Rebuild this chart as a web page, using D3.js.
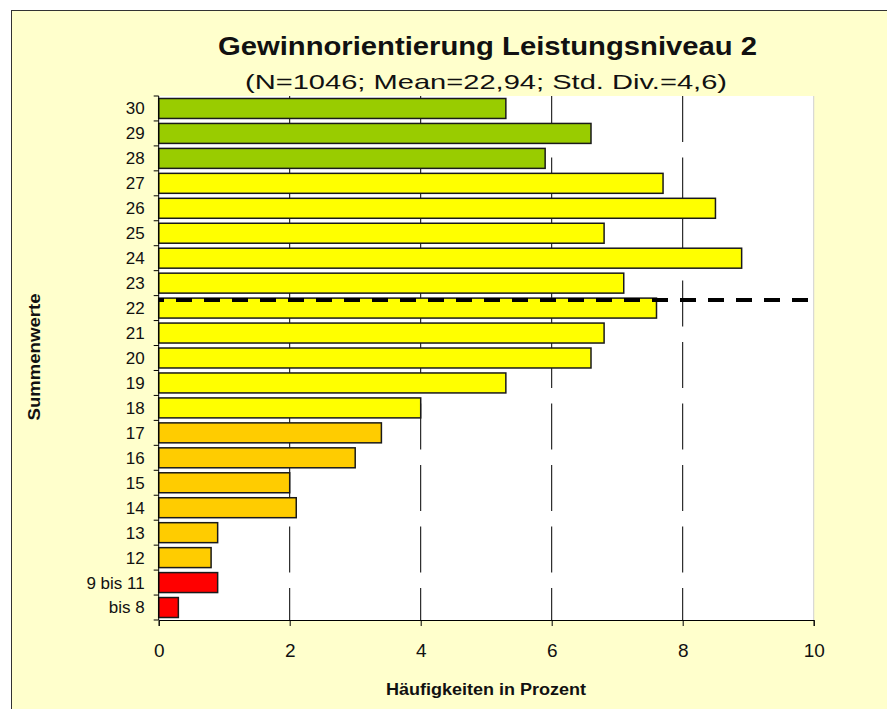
<!DOCTYPE html>
<html>
<head>
<meta charset="utf-8">
<script src="https://cdn.jsdelivr.net/npm/d3@7"></script>
<style>
  body { margin: 0; background: #fff; }
  text { font-family: "Liberation Sans", Arial, sans-serif; }
</style>
</head>
<body>
<div id="chart"></div>
<script>
const categories = ['30', '29', '28', '27', '26', '25', '24', '23', '22', '21', '20',
  '19', '18', '17', '16', '15', '14', '13', '12', '9 bis 11', 'bis 8'];
const values = [5.3, 6.6, 5.9, 7.7, 8.5, 6.8, 8.9, 7.1, 7.6, 6.8, 6.6,
  5.3, 4.0, 3.4, 3.0, 2.0, 2.1, 0.9, 0.8, 0.9, 0.3];
const groups = ['hoch', 'hoch', 'hoch', 'mittel', 'mittel', 'mittel', 'mittel', 'mittel', 'mittel', 'mittel', 'mittel',
  'mittel', 'mittel', 'niedrig', 'niedrig', 'niedrig', 'niedrig', 'niedrig', 'niedrig', 'sehr niedrig', 'sehr niedrig'];
const xTicks = [0, 2, 4, 6, 8, 10];
const meanCategory = '22';

const title = 'Gewinnorientierung Leistungsniveau 2';
const subtitle = '(N=1046; Mean=22,94; Std. Div.=4,6)';

const width = 887;
const height = 709;
const margin = { top: 96, right: 73.3, bottom: 89, left: 158.7 };

const color = d3.scaleOrdinal()
  .domain(['hoch', 'mittel', 'niedrig', 'sehr niedrig'])
  .range(['#99cc00', '#ffff00', '#ffcc00', '#ff0000']);

const data = categories.map((c, i) => ({ cat: c, value: values[i], group: groups[i] }));

const svg = d3.select('#chart')
  .append('svg')
  .attr('width', width)
  .attr('height', height);

// chart area frame
svg.append('rect')
  .attr('x', 11.5).attr('y', 10.5)
  .attr('width', width + 20).attr('height', height + 20)
  .attr('fill', '#ffffcc')
  .attr('stroke', '#333');

const x = d3.scaleLinear()
  .domain([0, 10])
  .range([margin.left, width - margin.right]);

const y = d3.scaleBand()
  .domain(categories)
  .range([margin.top, height - margin.bottom])
  .paddingInner(0.2)
  .paddingOuter(0.1);

// plot area
svg.append('rect')
  .attr('x', x(0)).attr('y', margin.top)
  .attr('width', x(10) - x(0)).attr('height', height - margin.bottom - margin.top)
  .attr('fill', '#fff');

svg.append('line')
  .attr('x1', x(10)).attr('x2', x(10))
  .attr('y1', margin.top).attr('y2', height - margin.bottom)
  .attr('stroke', '#d0d0d0');

// gridlines
svg.append('g')
  .selectAll('line')
  .data(xTicks.filter(d => d > 0 && d < 10))
  .join('line')
    .attr('x1', d => x(d)).attr('x2', d => x(d))
    .attr('y1', margin.top).attr('y2', height - margin.bottom)
    .attr('stroke', '#000')
    .attr('stroke-width', 1)
    .attr('stroke-dasharray', '46,15.5');

// bars
svg.append('g')
  .selectAll('rect')
  .data(data)
  .join('rect')
    .attr('x', x(0))
    .attr('y', d => y(d.cat))
    .attr('width', d => x(d.value) - x(0))
    .attr('height', y.bandwidth())
    .attr('fill', d => color(d.group))
    .attr('stroke', '#1a1a1a')
    .attr('stroke-width', 1.5);

// mean marker
const meanY = y(meanCategory) + y.step() * 0.08;
svg.append('line')
  .attr('x1', x(0)).attr('x2', x(10))
  .attr('y1', meanY).attr('y2', meanY)
  .attr('stroke', '#000')
  .attr('stroke-width', 4)
  .attr('stroke-dasharray', '16,12')
  .attr('stroke-dashoffset', 10.7);

// y axis
const yAxis = svg.append('g')
  .attr('transform', `translate(${x(0)},0)`);
yAxis.append('line')
  .attr('x1', 0).attr('x2', 0)
  .attr('y1', margin.top).attr('y2', height - margin.bottom)
  .attr('stroke', '#000');
yAxis.selectAll('.tick')
  .data(d3.range(categories.length + 1))
  .join('line')
    .attr('x1', -5).attr('x2', 0)
    .attr('y1', i => margin.top + i * y.step())
    .attr('y2', i => margin.top + i * y.step())
    .attr('stroke', '#000');
yAxis.selectAll('text')
  .data(categories)
  .join('text')
    .attr('x', -14)
    .attr('y', d => y(d) + y.bandwidth() / 2)
    .attr('dy', '0.35em')
    .attr('text-anchor', 'end')
    .attr('font-size', 17)
    .attr('fill', '#111')
    .text(d => d);

// x axis
svg.append('g')
  .attr('transform', `translate(0,${height - margin.bottom})`)
  .call(d3.axisBottom(x).tickValues(xTicks).tickSize(6).tickPadding(18))
  .call(g => g.select('.domain').attr('stroke', '#000'))
  .call(g => g.selectAll('text').attr('font-size', 19).attr('fill', '#111')
    .attr('font-family', '"Liberation Sans", Arial, sans-serif'));

// titles
svg.append('text')
  .attr('x', 487.5).attr('y', 55)
  .attr('text-anchor', 'middle')
  .attr('font-size', 25).attr('font-weight', 'bold')
  .attr('textLength', 539).attr('lengthAdjust', 'spacingAndGlyphs')
  .attr('fill', '#111')
  .text(title);

svg.append('text')
  .attr('x', 486).attr('y', 89)
  .attr('text-anchor', 'middle')
  .attr('font-size', 21)
  .attr('textLength', 482).attr('lengthAdjust', 'spacingAndGlyphs')
  .attr('fill', '#111')
  .text(subtitle);

svg.append('text')
  .attr('x', 486).attr('y', 695)
  .attr('text-anchor', 'middle')
  .attr('font-size', 16).attr('font-weight', 'bold')
  .attr('textLength', 200).attr('lengthAdjust', 'spacingAndGlyphs')
  .attr('fill', '#111')
  .text('Häufigkeiten in Prozent');

svg.append('text')
  .attr('transform', 'translate(40,357) rotate(-90)')
  .attr('text-anchor', 'middle')
  .attr('font-size', 16).attr('font-weight', 'bold')
  .attr('textLength', 127).attr('lengthAdjust', 'spacingAndGlyphs')
  .attr('fill', '#111')
  .text('Summenwerte');
</script>
</body>
</html>
